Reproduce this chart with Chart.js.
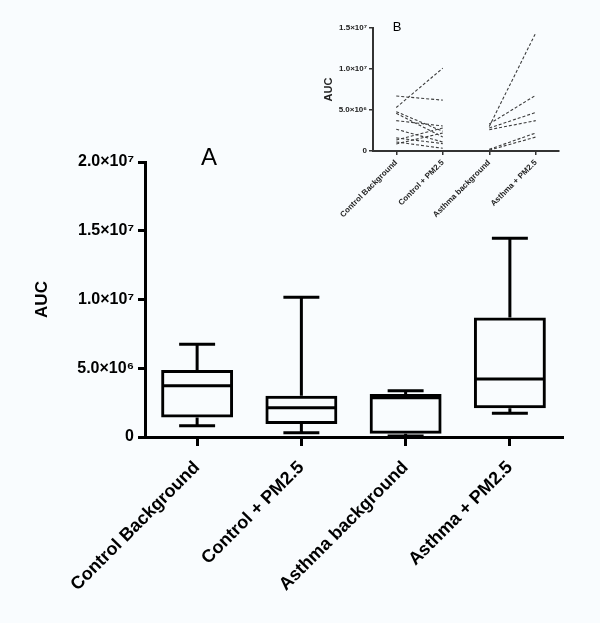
<!DOCTYPE html>
<html>
<head>
<meta charset="utf-8">
<script src="https://cdn.jsdelivr.net/npm/chart.js@4.4.0/dist/chart.umd.min.js"></script>
<style>
  html, body { margin: 0; padding: 0; background: #f9fcfe; }
  #wrap { position: relative; width: 600px; height: 623px; }
  #main { position: absolute; left: 0; top: 0; }
  #inset { position: absolute; left: 285px; top: 0; }
</style>
</head>
<body>
<div id="wrap">
  <canvas id="main" width="600" height="623"></canvas>
  <canvas id="inset" width="290" height="235"></canvas>
</div>
<script>
// --- data ---
const groups = ['Control Background', 'Control + PM2.5', 'Asthma background', 'Asthma + PM2.5'];
const whiskerMin = [0.82e6, 0.31e6, 0.07e6, 1.72e6];
const quart1     = [1.41e6, 0.95e6, 0.24e6, 2.09e6];
const medians    = [3.73e6, 2.13e6, 2.86e6, 4.22e6];
const quart3     = [4.87e6, 3.00e6, 3.13e6, 8.70e6];
const whiskerMax = [6.74e6, 10.16e6, 3.37e6, 14.45e6];
const yTicks      = [0, 5e6, 1e7, 1.5e7, 2e7];
const yTickLabels = ['0', '5.0×10⁶', '1.0×10⁷', '1.5×10⁷', '2.0×10⁷'];

// inset B: paired subjects, before -> after
const controlBefore = [5.3e6, 6.7e6, 4.8e6, 4.6e6, 3.7e6, 2.65e6, 1.6e6, 1.35e6, 1.1e6, 0.86e6];
const controlAfter  = [10.1e6, 6.2e6, 2.4e6, 1.7e6, 3.05e6, 1.1e6, 0.9e6, 2.8e6, 0.33e6, 2.2e6];
const asthmaBefore  = [3.0e6, 3.3e6, 2.8e6, 2.6e6, 0.2e6, 0.1e6];
const asthmaAfter   = [14.4e6, 6.8e6, 4.7e6, 3.7e6, 2.2e6, 1.7e6];
const insetTicks      = [0, 5e6, 1e7, 1.5e7];
const insetTickLabels = ['0', '5.0×10⁶', '1.0×10⁷', '1.5×10⁷'];

const FONT = 'Arial, "Liberation Sans", sans-serif';

// whiskers, caps and median lines drawn from the scales
const boxWhiskers = {
  id: 'boxWhiskers',
  afterDatasetsDraw(chart) {
    const { ctx, scales: { x, y } } = chart;
    const meta = chart.getDatasetMeta(0);
    ctx.save();
    ctx.strokeStyle = '#000';
    ctx.lineWidth = 3;
    groups.forEach((g, i) => {
      const cx = x.getPixelForValue(i);
      const half = meta.data[i].width / 2;
      const cap = half / 2;
      const py = v => y.getPixelForValue(v);
      ctx.beginPath();
      ctx.moveTo(cx - half + 1, py(medians[i])); ctx.lineTo(cx + half - 1, py(medians[i]));
      ctx.moveTo(cx, py(quart3[i])); ctx.lineTo(cx, py(whiskerMax[i]));
      ctx.moveTo(cx - cap, py(whiskerMax[i])); ctx.lineTo(cx + cap, py(whiskerMax[i]));
      ctx.moveTo(cx, py(quart1[i])); ctx.lineTo(cx, py(whiskerMin[i]));
      ctx.moveTo(cx - cap, py(whiskerMin[i])); ctx.lineTo(cx + cap, py(whiskerMin[i]));
      ctx.stroke();
    });
    ctx.restore();
  }
};

const panelLetter = (letter, px, py, size) => ({
  id: 'panel' + letter,
  afterDraw(chart) {
    const ctx = chart.ctx;
    ctx.save();
    ctx.fillStyle = '#000';
    ctx.font = size + 'px ' + FONT;
    ctx.textAlign = 'center';
    ctx.textBaseline = 'middle';
    ctx.fillText(letter, px, py);
    ctx.restore();
  }
});

new Chart(document.getElementById('main'), {
  type: 'bar',
  data: {
    labels: groups,
    datasets: [{
      data: groups.map((g, i) => [quart1[i], quart3[i]]),
      backgroundColor: 'rgba(0,0,0,0)',
      borderColor: '#000',
      borderWidth: 3,
      borderSkipped: false,
      barPercentage: 0.69,
      categoryPercentage: 1,
    }],
  },
  options: {
    responsive: false,
    animation: false,
    layout: { padding: { top: 162, right: 38, left: 0, bottom: 0 } },
    plugins: { legend: { display: false }, tooltip: { enabled: false } },
    scales: {
      x: {
        afterFit: s => { s.height = 186; },
        grid: { display: true, offset: false, drawOnChartArea: false, color: '#000', tickLength: 9, lineWidth: 3 },
        border: { color: '#000', width: 3 },
        ticks: { color: '#000', minRotation: 45, maxRotation: 45, padding: 11, font: { family: FONT, size: 18, weight: 'bold' } },
      },
      y: {
        min: 0, max: 2e7,
        afterFit: s => { s.width = 145; },
        afterBuildTicks: s => { s.ticks = yTicks.map(v => ({ value: v })); },
        grid: { display: true, drawOnChartArea: false, color: '#000', tickLength: 7, lineWidth: 3 },
        border: { color: '#000', width: 3 },
        ticks: {
          color: '#000', padding: 4,
          font: { family: FONT, size: 16, weight: 'bold' },
          callback: v => yTickLabels[yTicks.indexOf(v)],
        },
        title: { display: true, text: 'AUC', color: '#000', padding: { top: 32, bottom: 0 }, font: { family: FONT, size: 17, weight: 'bold' } },
      },
    },
  },
  plugins: [boxWhiskers, panelLetter('A', 209, 158, 24)],
});

const insetSets = [];
controlBefore.forEach((v, i) => insetSets.push([v, controlAfter[i], null, null]));
asthmaBefore.forEach((v, i) => insetSets.push([null, null, v, asthmaAfter[i]]));

new Chart(document.getElementById('inset'), {
  type: 'line',
  data: {
    labels: groups,
    datasets: insetSets.map(d => ({
      data: d,
      borderColor: '#3c3c3c',
      borderWidth: 1.1,
      borderDash: [3, 2],
      pointRadius: 0,
      spanGaps: false,
    })),
  },
  options: {
    responsive: false,
    animation: false,
    layout: { padding: { top: 28, right: 16, left: 0, bottom: 0 } },
    plugins: { legend: { display: false }, tooltip: { enabled: false } },
    scales: {
      x: {
        offset: true,
        afterFit: s => { s.height = 84; },
        grid: { display: true, offset: false, drawOnChartArea: false, color: '#333', tickLength: 4, lineWidth: 1.5 },
        border: { color: '#333', width: 2 },
        ticks: { color: '#222', minRotation: 45, maxRotation: 45, padding: 3, font: { family: FONT, size: 8, weight: 'bold' } },
      },
      y: {
        min: 0, max: 1.5e7,
        afterFit: s => { s.width = 88; },
        afterBuildTicks: s => { s.ticks = insetTicks.map(v => ({ value: v })); },
        grid: { display: true, drawOnChartArea: false, color: '#333', tickLength: 4, lineWidth: 1.5 },
        border: { color: '#333', width: 2 },
        ticks: {
          color: '#222', padding: 2,
          font: { family: FONT, size: 8, weight: 'bold' },
          callback: v => insetTickLabels[insetTicks.indexOf(v)],
        },
        title: { display: true, text: 'AUC', color: '#222', padding: { top: 37, bottom: 0 }, font: { family: FONT, size: 11, weight: 'bold' } },
      },
    },
  },
  plugins: [panelLetter('B', 112, 27, 13)],
});
</script>
</body>
</html>
